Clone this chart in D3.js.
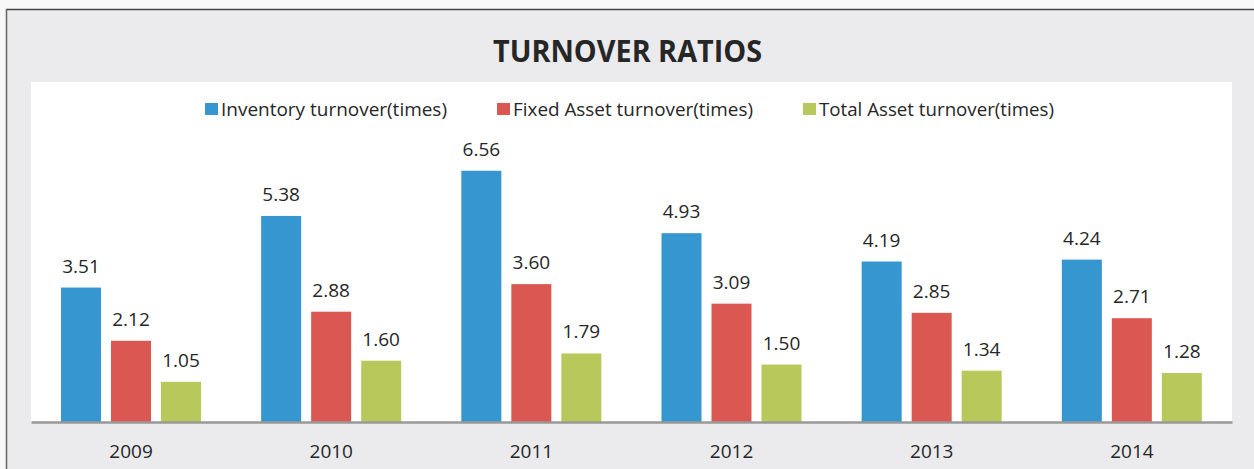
<!DOCTYPE html>
<html><head><meta charset="utf-8">
<script src="https://cdn.jsdelivr.net/npm/d3@7"></script>
<style>html,body{margin:0;padding:0;background:#f8f8f8;}svg{display:block;}</style>
</head><body>
<svg id="c" width="1254" height="469"></svg>
<script>
const categories = ["2009","2010","2011","2012","2013","2014"];
const seriesNames = ["Inventory turnover(times)","Fixed Asset turnover(times)","Total Asset turnover(times)"];
const inventory = [3.51,5.38,6.56,4.93,4.19,4.24];
const fixedAsset = [2.12,2.88,3.60,3.09,2.85,2.71];
const totalAsset = [1.05,1.60,1.79,1.50,1.34,1.28];
const colors = ["#3596d0","#da5752","#b9c85b"];
const series = [inventory, fixedAsset, totalAsset];

const svg = d3.select("#c");
const font = "'Open Sans', 'Liberation Sans', sans-serif";
// chart frame
svg.append("rect").attr("x",6).attr("y",9).attr("width",1248).attr("height",460).attr("fill","#ebebed");
svg.append("line").attr("x1",6).attr("x2",1254).attr("y1",9.5).attr("y2",9.5).attr("stroke","#444").attr("stroke-width",1.5);
svg.append("line").attr("x1",6.5).attr("x2",6.5).attr("y1",9).attr("y2",469).attr("stroke","#666").attr("stroke-width",1.5);

const plot = {left:31, right:1232, top:82, bottom:422};
svg.append("rect").attr("x",plot.left).attr("y",plot.top).attr("width",plot.right-plot.left).attr("height",plot.bottom-plot.top).attr("fill","#fff");

const x = d3.scaleBand().domain(categories).range([plot.left, plot.right]).paddingInner(0).paddingOuter(0);
const x1 = d3.scaleBand().domain(d3.range(3)).range([30,170]).paddingInner(0.2);
const y = d3.scaleLinear().domain([0,8]).range([plot.bottom, plot.bottom - 8*38.3]);

// title
svg.append("text").attr("x",627.5).attr("y",62).attr("text-anchor","middle")
  .attr("font-family",font).attr("font-weight","bold").attr("font-size",30).attr("fill","#262626")
  .attr("textLength",269).attr("lengthAdjust","spacingAndGlyphs")
  .text("TURNOVER RATIOS");

// legend
const legX = [205,497,803];
const legW = [226,240,235];
seriesNames.forEach((n,i)=>{
  svg.append("rect").attr("x",legX[i]).attr("y",103).attr("width",13).attr("height",12).attr("fill",colors[i]);
  svg.append("text").attr("x",legX[i]+16).attr("y",115.5).attr("font-family",font).attr("font-size",19).attr("fill","#262626")
    .attr("textLength",legW[i]).attr("lengthAdjust","spacingAndGlyphs").text(n);
});

// bars
const g = svg.append("g");
series.forEach((vals,si)=>{
  g.selectAll(null).data(vals).enter().append("rect")
    .attr("x",(d,i)=>x(categories[i])+x1(si))
    .attr("y",d=>y(d)).attr("width",x1.bandwidth()).attr("height",d=>y(0)-y(d))
    .attr("fill",colors[si]);
  g.selectAll(null).data(vals).enter().append("text")
    .attr("x",(d,i)=>x(categories[i])+x1(si)+x1.bandwidth()/2)
    .attr("y",d=>y(d)-15).attr("text-anchor","middle")
    .attr("font-family",font).attr("font-size",19).attr("fill","#262626")
    .text(d=>d.toFixed(2));
});

// axis
const ax = svg.append("g").attr("transform",`translate(0,${plot.bottom})`)
  .call(d3.axisBottom(x).tickSize(0).tickPadding(0));
ax.select(".domain").attr("stroke","#999").attr("stroke-width",2.5);
ax.selectAll(".tick text").attr("font-family",font).attr("font-size",19).attr("fill","#262626")
  .attr("dy",0).attr("y",35.5);
</script>
</body></html>
